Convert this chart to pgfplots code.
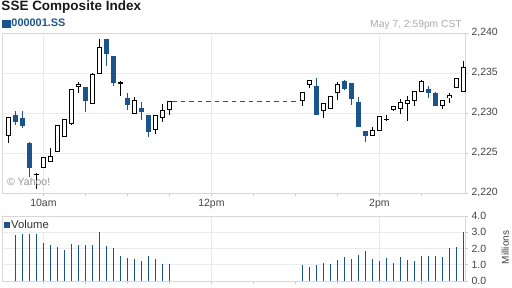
\documentclass[border=0pt]{standalone}
\usepackage{pgfplots}
\pgfplotsset{compat=1.18}
\usepackage{pgfplotstable}
\usepackage{fontspec}
\setmainfont{Liberation Sans}
\definecolor{sseblue}{RGB}{27,84,140}
\definecolor{gridc}{RGB}{232,235,241}
\definecolor{framec}{RGB}{216,216,216}
\definecolor{tickc}{RGB}{200,200,200}
\definecolor{labc}{RGB}{68,68,68}
\definecolor{datec}{RGB}{170,170,170}

% 5-minute candles, time in minutes after midnight: open high low close
\pgfplotstableread{
t o h l c
575 2227.25 2229.5 2226.25 2229.5
595 2222.33 2222.45 2220.5 2222.33
600 2223.25 2224.4 2223.25 2224.4
605 2224.0 2225.6 2224.0 2224.6
610 2225.25 2228.4 2225.25 2228.4
615 2227.08 2229.25 2227.08 2229.25
620 2228.7 2232.9 2228.46 2232.9
625 2233.33 2233.875 2232.46 2233.6
635 2231.25 2235.04 2231.25 2234.875
640 2235.0 2239.29 2235.0 2238.25
655 2233.75 2233.96 2232.08 2233.75
665 2230.0 2232.0 2230.0 2231.54
680 2227.9 2229.75 2227.33 2229.75
685 2229.5 2231.17 2228.83 2230.375
690 2230.5 2231.54 2229.75 2231.46
785 2231.5 2232.5 2230.83 2232.5
790 2233.5 2234.1 2233.08 2234.0
800 2230.375 2231.25 2229.33 2231.25
805 2230.5 2232.0 2230.5 2232.0
810 2232.625 2233.875 2231.7 2233.625
835 2227.25 2228.25 2227.25 2227.875
840 2227.875 2229.625 2227.875 2229.625
845 2229.2 2229.75 2229.0 2229.2
850 2230.5 2230.875 2230.29 2230.875
855 2230.58 2231.79 2229.83 2231.29
860 2231.25 2232.17 2228.96 2231.54
865 2231.54 2232.75 2230.83 2232.75
870 2232.7 2234.08 2232.58 2234.0
885 2231.0 2231.625 2230.54 2231.625
890 2231.875 2232.54 2231.25 2232.125
895 2233.25 2234.375 2233.25 2234.375
900 2232.75 2236.54 2232.75 2235.75
}\upTbl

\pgfplotstableread{
t o h l c
580 2229.75 2230.25 2228.5 2228.875
585 2229.375 2230.3 2228.1 2228.375
590 2226.25 2226.4 2222.0 2223.125
630 2233.29 2233.29 2230.08 2231.58
645 2239.17 2239.17 2235.83 2237.46
650 2237.04 2237.04 2233.42 2233.83
660 2231.79 2232.54 2230.33 2231.08
670 2230.67 2231.375 2229.125 2230.2
675 2229.75 2229.75 2226.96 2227.7
795 2233.375 2234.375 2229.83 2229.83
815 2234.0 2234.125 2232.83 2233.08
820 2233.75 2233.75 2230.96 2231.83
825 2231.42 2232.04 2228.29 2228.29
830 2227.75 2227.75 2226.33 2227.2
875 2233.0 2233.42 2231.83 2232.5
880 2232.42 2232.625 2230.92 2230.92
}\downTbl

\pgfplotstableread{
t v
580 2.84
585 2.90
590 2.90
595 2.90
600 2.33
605 2.20
610 2.08
615 1.90
620 2.27
625 2.20
630 2.20
635 2.20
640 3.02
645 2.15
650 2.02
655 1.53
660 1.41
665 1.35
670 1.22
675 1.53
680 1.35
685 1.04
690 1.04
785 0.99
790 0.87
795 0.99
800 1.11
805 1.05
810 1.30
815 1.48
820 1.36
825 1.60
830 1.85
835 1.36
840 1.24
845 1.42
850 1.11
855 1.48
860 1.30
865 1.24
870 1.55
875 1.55
880 1.55
885 1.48
890 2.04
895 2.10
900 3.03
}\volTbl

\pgfplotsset{
  yahoo/.style={
    scale only axis, width=463pt,
    xmin=570.4, xmax=901.1,
    axis line style={framec, line width=0.8pt},
    grid style={gridc, line width=0.8pt},
    xmajorgrids, ymajorgrids,
    xtick={600,720,840},
    minor xtick={630,660,690,750,780,810,870},
    tick align=outside, major tick length=3pt, minor tick length=3pt,
    tick style={tickc, line width=0.8pt},
    xtick pos=bottom, ytick pos=right, yticklabel pos=right,
    tick label style={font=\fontsize{10.5}{12}\selectfont, text=labc},
    /pgf/number format/assume math mode=true,
    clip=false,
  },
  wick/.style={only marks, mark=text, text mark={}, forget plot,
    error bars/.cd, y dir=both, y explicit, error mark=none,
    error bar style={#1, line width=0.9pt}},
  body/.style n args={2}{only marks, mark=text, text mark={}, forget plot,
    error bars/.cd, y dir=both, y explicit, error mark=none,
    error bar style={#1, line width=#2}},
}

\begin{document}
\begin{tikzpicture}
\useasboundingbox (0,0) rectangle (512pt,288pt);

\node[anchor=base west, inner sep=0pt, font=\bfseries\fontsize{13.5}{15}\selectfont, text=black!90] at (1.3pt,277pt) {SSE Composite Index};
\node[anchor=base east, inner sep=0pt, font=\fontsize{10.3}{12}\selectfont, text=datec] at (462pt,260.7pt) {May 7, 2:59pm CST};

\begin{axis}[yahoo,
  at={(2pt,95pt)}, anchor=south west, height=160pt,
  ymin=2220, ymax=2240, ytick={2220,2225,2230,2235,2240},
  scaled y ticks=false,
  xticklabels={10am,12pm,2pm},
  legend style={at={(axis description cs:0,1)}, anchor=south west, draw=none, fill=none,
    inner sep=0pt, outer sep=0pt, yshift=3pt, xshift=0pt,
    nodes={inner sep=1.5pt, text=sseblue}},
  legend cell align=left,
]
\addlegendimage{legend image code/.code={\fill[sseblue] (0pt,-3.7pt) rectangle (7.6pt,3.7pt);}}
\addlegendentry{\bfseries\fontsize{10.9}{12}\selectfont 000001.SS}

\addplot[sseblue, line width=0.9pt, dash pattern=on 4.5pt off 4pt, forget plot]
  coordinates {(692,2231.5) (781,2231.5)};

% down candles (blue)
\addplot[wick=sseblue] table[x=t, y expr={(\thisrow{h}+\thisrow{l})/2}, y error expr={(\thisrow{h}-\thisrow{l})/2}] {\downTbl};
\addplot[body={sseblue}{4.6pt}] table[x=t, y expr={(\thisrow{o}+\thisrow{c})/2}, y error expr={abs(\thisrow{c}-\thisrow{o})/2+0.03}] {\downTbl};

% up candles (hollow)
\addplot[wick=black] table[x=t, y expr={(\thisrow{h}+\thisrow{l})/2}, y error expr={(\thisrow{h}-\thisrow{l})/2}] {\upTbl};
\addplot[body={black}{4.6pt}] table[x=t, y expr={(\thisrow{o}+\thisrow{c})/2}, y error expr={abs(\thisrow{c}-\thisrow{o})/2+0.0625}] {\upTbl};
\addplot[body={white}{2.8pt}] table[x=t, y expr={(\thisrow{o}+\thisrow{c})/2}, y error expr={max(abs(\thisrow{c}-\thisrow{o})/2-0.0625,0)}] {\upTbl};

\node[anchor=base west, inner sep=0pt, font=\fontsize{10.5}{12}\selectfont, text=black!42] at (axis cs:573.9,2220.9) {© Yahoo!};
\end{axis}

\begin{axis}[yahoo,
  at={(2pt,7pt)}, anchor=south west, height=65pt,
  ymin=0, ymax=4, ytick={0,1,2,3,4},
  xticklabels={},
  yticklabel style={/pgf/number format/.cd, fixed, fixed zerofill, precision=1},
  legend style={at={(axis description cs:0.002,0.965)}, anchor=north west, draw=none, fill=white,
    inner sep=0.5pt,
    nodes={inner sep=1.5pt, text=black!80}},
  legend cell align=left,
]
\addplot[ycomb, sseblue, line width=0.9pt, mark=none,
  legend image code/.code={\fill[sseblue] (0pt,-2.6pt) rectangle (5.2pt,2.6pt);}]
  table[x=t, y=v] {\volTbl};
\addlegendentry{\fontsize{11.3}{12}\selectfont Volume}
\end{axis}

\node[rotate=90, inner sep=0pt, font=\fontsize{10}{12}\selectfont, text=labc] at (505.3pt,40.5pt) {Millions};
\end{tikzpicture}
\end{document}
